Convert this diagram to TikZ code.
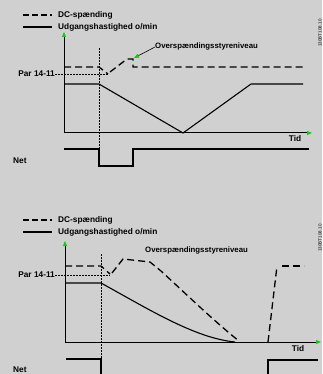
\documentclass[tikz,border=0pt]{standalone}
\usepackage{fontspec}
\setmainfont{Liberation Sans}
\usetikzlibrary{arrows.meta}
\definecolor{bg}{RGB}{208,208,208}
\definecolor{tipgreen}{RGB}{20,200,20}
\tikzset{
  lbl/.style={font=\bfseries\fontsize{8.3}{9}\selectfont, inner sep=0pt, anchor=west},
  ovlbl/.style={font=\bfseries\fontsize{7.8}{9}\selectfont, inner sep=0pt, anchor=west},
  idlbl/.style={font=\fontsize{4.5}{5}\selectfont, inner sep=0pt, rotate=90},
  axis/.style={line width=1pt, -{Triangle[length=5pt,width=4pt,color=tipgreen]}},
  dcline/.style={line width=1.3pt, dash pattern=on 7pt off 4pt},
  speed/.style={line width=1.1pt},
  netline/.style={line width=1.1pt},
  vdash/.style={line width=0.6pt, dash pattern=on 2pt off 1pt},
  pardash/.style={line width=0.5pt, dash pattern=on 2pt off 1pt},
}
\begin{document}
\begin{tikzpicture}[x=1pt,y=-1pt]
\fill[bg] (0,0) rectangle (322,374);
\useasboundingbox (0,0) rectangle (322,374);

% ================= TOP DIAGRAM =================
% legend
\coordinate (la1) at (23,15); \coordinate (la2) at (52,15);
\coordinate (lb1) at (23,27); \coordinate (lb2) at (52,27);
\draw[dcline, dash pattern=on 6pt off 3pt] (la1) -- (la2);
\draw[speed] (lb1) -- (lb2);
\node[lbl] (tdc) at (58,15) {DC-spænding};
\node[lbl] (tsp) at (58,27) {Udgangshastighed o/min};
% axes
\coordinate (to) at (64,133);
\coordinate (ty) at (64,32);
\coordinate (tx) at (312,133);
\draw[axis] (to) -- (ty);
\draw[axis] (to) -- (tx);
% vertical dashed
\coordinate (tv1) at (99,48); \coordinate (tv2) at (99,166);
\draw[vdash] (tv1) -- (tv2);
% Par 14-11
\node[lbl, anchor=east] (tpar) at (55,74) {Par 14-11};
\coordinate (tp2) at (108,74);
\draw[pardash] (tpar.east) -- (tp2);
% DC voltage
\draw[dcline] (64,67) -- (99,67) -- (108,74);
\draw[dcline] (110,72) -- (127,59) -- (133,59) -- (133,67) -- (304,67);
% speed
\draw[speed] (64,84) -- (99,84) -- (183,133) -- (251,84) -- (303,84);
% Net
\draw[netline] (64,149) -- (99,149) -- (99,166) -- (133,166) -- (133,149) -- (309,149);
\node[lbl] (tnet) at (13,161) {Net};
% overvoltage label
\node[ovlbl] (tov) at (155,47) {Overspændingsstyreniveau};
\coordinate (tovt) at (134,58);
\draw[line width=0.6pt, -{Triangle[length=5pt,width=4pt,color=tipgreen]}] (tov.west) -- (tovt);
\node[lbl, anchor=center] (ttid) at (295,139) {Tid};
\node[idlbl] (tid1) at (320,33) {130BT108.10};

% ================= BOTTOM DIAGRAM =================
\coordinate (lc1) at (23,220); \coordinate (lc2) at (52,220);
\coordinate (ld1) at (23,232); \coordinate (ld2) at (52,232);
\draw[dcline, dash pattern=on 6pt off 3pt] (lc1) -- (lc2);
\draw[speed] (ld1) -- (ld2);
\node[lbl] (bdc) at (58,220) {DC-spænding};
\node[lbl] (bsp) at (58,232) {Udgangshastighed o/min};
% axes
\coordinate (bo) at (65,342);
\coordinate (by) at (65,241);
\coordinate (bx) at (321,342);
\draw[axis] (bo) -- (by);
\draw[axis] (bo) -- (bx);
% vertical dashed
\coordinate (bv1) at (101,254); \coordinate (bv2) at (101,374);
\draw[vdash] (bv1) -- (bv2);
% Par 14-11
\node[lbl, anchor=east] (bpar) at (55,275) {Par 14-11};
\coordinate (bp2) at (110,275);
\draw[pardash] (bpar.east) -- (bp2);
% DC voltage
\draw[dcline] (65,266) -- (101,266) -- (110,274);
\draw[dcline] (112,273) -- (123,259) -- (150,262) -- (161,271) .. controls (185,293) and (215,322) .. (239,341);
\draw[dcline] (268,342) -- (277,266);
\draw[dcline] (282,266) -- (304,266);
% speed
\draw[speed] (65,283) -- (101,283) .. controls (150,310) and (195,338) .. (235,342);
% Net
\draw[netline] (66,359) -- (101,359) -- (101,374);
\draw[netline] (268,374) -- (268,360) -- (318,360);
\node[lbl] (bnet) at (13,370) {Net};
\node[ovlbl] (bov) at (145,250) {Overspændingsstyreniveau};
\node[lbl, anchor=center] (btid) at (298,349) {Tid};
\node[idlbl] (bid1) at (320,238) {130BT108.10};
\end{tikzpicture}
\end{document}
